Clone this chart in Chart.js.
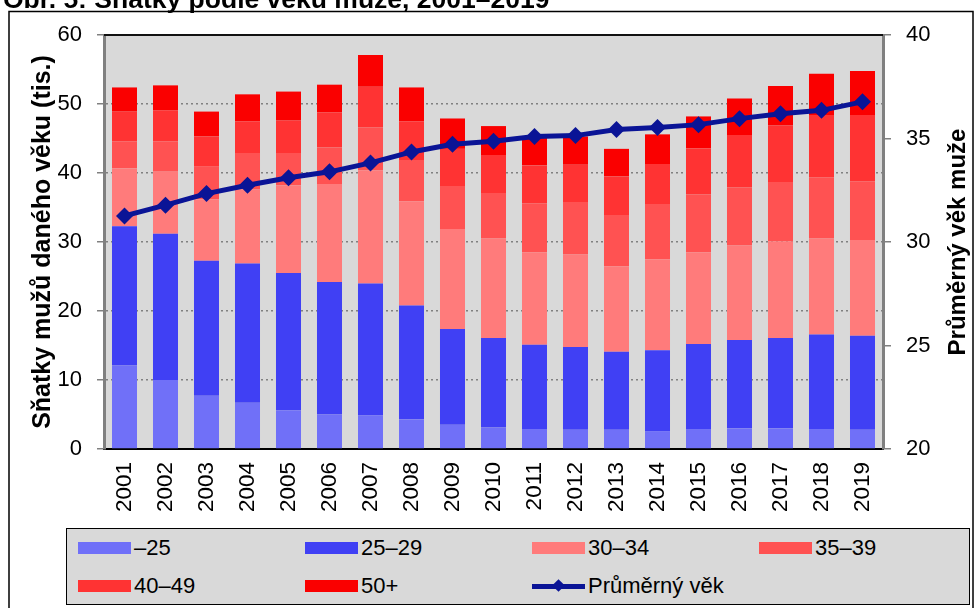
<!DOCTYPE html>
<html>
<head>
<meta charset="utf-8">
<script src="https://cdn.jsdelivr.net/npm/chart.js@4.4.1/dist/chart.umd.min.js"></script>
<style>
  body { margin: 0; background: #fff; font-family: "Liberation Sans", Arial, sans-serif; }
  #wrap { position: relative; width: 979px; height: 608px; overflow: hidden; }
  #title { position: absolute; left: 3px; top: -14px; font-weight: bold; font-size: 26.5px; line-height: 26px; white-space: nowrap; }
  #legend { position: absolute; left: 66px; top: 528px; width: 902px; height: 75px; background: #d9d9d9; border: 1.5px solid #000; }
  .item { position: absolute; font-size: 22px; line-height: 22px; white-space: nowrap; }
  .sw { position: absolute; width: 53px; height: 12px; }
  .lbl { position: absolute; }
</style>
</head>
<body>
<div id="wrap">
  <canvas id="chart" width="979" height="608"></canvas>
  <div id="title">Obr. 5: Sňatky podle věku muže, 2001–2019</div>
  <div id="legend"></div>
</div>
<script>
var years = ['2001','2002','2003','2004','2005','2006','2007','2008','2009','2010',
             '2011','2012','2013','2014','2015','2016','2017','2018','2019'];

// thousands of marriages by groom's age
var age_25   = [12.1, 10.0, 7.7, 6.7, 5.6, 5.0, 4.9, 4.3, 3.5, 3.1, 2.9, 2.8, 2.8, 2.6, 2.9, 3.0, 3.0, 2.9, 2.8];
var age25_29 = [20.2, 21.2, 19.6, 20.2, 19.9, 19.2, 19.1, 16.5, 13.9, 13.0, 12.2, 12.0, 11.3, 11.7, 12.3, 12.8, 13.1, 13.7, 13.6];
var age30_34 = [8.4, 9.0, 8.9, 10.7, 12.7, 14.2, 16.4, 15.1, 14.5, 14.4, 13.4, 13.4, 12.4, 13.2, 13.3, 13.7, 14.0, 13.9, 13.9];
var age35_39 = [3.9, 4.4, 4.8, 5.3, 4.7, 5.3, 6.2, 6.0, 6.2, 6.6, 7.1, 7.6, 7.4, 8.0, 8.4, 8.4, 8.6, 8.9, 8.5];
var age40_49 = [4.3, 4.5, 4.3, 4.6, 4.7, 5.1, 5.9, 5.6, 5.4, 5.5, 5.5, 5.4, 5.6, 5.8, 6.7, 7.6, 8.2, 9.0, 9.6];
var age50    = [3.5, 3.6, 3.6, 3.9, 4.2, 4.0, 4.6, 4.9, 4.4, 4.2, 4.1, 4.1, 4.0, 4.3, 4.6, 5.3, 5.7, 6.0, 6.4];
var avgAge   = [31.26, 31.78, 32.34, 32.74, 33.10, 33.39, 33.82, 34.35, 34.72, 34.87,
                35.10, 35.14, 35.43, 35.53, 35.67, 35.96, 36.20, 36.36, 36.77];

var groupNames  = ['–25', '25–29', '30–34', '35–39', '40–49', '50+'];
var groupColors = ['#7070f8', '#4040f4', '#ff7b7b', '#ff5252', '#ff3333', '#fa0000'];
var lineName = 'Průměrný věk';
var lineColor = '#0a1496';

var FONT = '"Liberation Sans", Arial, sans-serif';
var groups = [age_25, age25_29, age30_34, age35_39, age40_49, age50];

var datasets = groups.map(function (vals, i) {
    return {
        type: 'bar',
        label: groupNames[i],
        data: vals,
        backgroundColor: groupColors[i],
        borderWidth: 0,
        barPercentage: 0.61,
        categoryPercentage: 1.0,
        yAxisID: 'y',
        order: 2
    };
});
datasets.push({
    type: 'line',
    label: lineName,
    data: avgAge,
    borderColor: lineColor,
    backgroundColor: lineColor,
    borderWidth: 5,
    pointStyle: 'rectRot',
    pointRadius: 8.5,
    pointBorderWidth: 0,
    pointBackgroundColor: lineColor,
    tension: 0,
    yAxisID: 'y1',
    order: 1
});

var plotBg = {
    id: 'plotBg',
    beforeDraw: function (chart) {
        var c = chart.ctx, a = chart.chartArea;
        c.save();
        c.fillStyle = '#fff';
        c.fillRect(0, 0, chart.width, chart.height);
        c.strokeStyle = '#000';
        c.lineWidth = 1.5;
        c.strokeRect(9, 11.5, 964, 610);
        c.fillStyle = '#d9d9d9';
        c.fillRect(a.left, a.top, a.right - a.left, a.bottom - a.top);
        c.restore();
    },
    afterDraw: function (chart) {
        var c = chart.ctx, a = chart.chartArea;
        c.save();
        c.strokeStyle = '#111';
        c.lineWidth = 2;
        c.beginPath();
        c.moveTo(a.left, a.top);
        c.lineTo(a.right, a.top);
        c.stroke();
        // right axis title, reading bottom to top
        c.translate(958, (a.top + a.bottom) / 2);
        c.rotate(-Math.PI / 2);
        c.fillStyle = '#000';
        c.font = 'bold 24px ' + FONT;
        c.textAlign = 'center';
        c.textBaseline = 'middle';
        c.fillText('Průměrný věk muže', 0, 0);
        c.restore();
    }
};

var ctx = document.getElementById('chart').getContext('2d');
var chart = new Chart(ctx, {
    data: { labels: years, datasets: datasets },
    plugins: [plotBg],
    options: {
        responsive: false,
        animation: false,
        devicePixelRatio: 1,
        layout: { padding: { left: 0, right: 0, top: 35, bottom: 0 } },
        plugins: { legend: { display: false }, title: { display: false }, tooltip: { enabled: false } },
        scales: {
            x: {
                stacked: true,
                grid: { display: false, drawTicks: false },
                border: { display: true, color: '#000', width: 2 },
                ticks: { color: '#000', font: { family: FONT, size: 22.5 }, maxRotation: 90, minRotation: 90, padding: 13 },
                afterFit: function (s) { s.height = 159; }
            },
            y: {
                stacked: true,
                position: 'left',
                min: 0, max: 60,
                ticks: { stepSize: 10, color: '#000', font: { family: FONT, size: 22 }, padding: 15 },
                grid: {
                    color: function (c) { return (c.tick && (c.tick.value === 0 || c.tick.value === 60)) ? 'rgba(0,0,0,0)' : '#808080'; },
                    lineWidth: 1.5,
                    tickColor: '#808080',
                    tickLength: 7,
                    tickWidth: 1.5,
                    tickBorderDash: []
                },
                border: { display: true, color: '#808080', width: 3, dash: [2, 3] },
                title: {
                    display: true,
                    text: 'Sňatky mužů daného věku (tis.)',
                    color: '#000',
                    font: { family: FONT, size: 25, weight: 'bold' },
                    padding: { top: 28, bottom: 0 }
                },
                afterFit: function (s) { s.width = 104; }
            },
            y1: {
                position: 'right',
                min: 20, max: 40,
                ticks: { stepSize: 5, color: '#000', font: { family: FONT, size: 22 }, padding: 15 },
                grid: { drawOnChartArea: false, color: '#808080', tickLength: 8, lineWidth: 1.5 },
                border: { display: true, color: '#808080', width: 3 },
                afterFit: function (s) { s.width = 96; }
            }
        }
    }
});

// legend box
var legend = document.getElementById('legend');
var cols = [11, 238, 465, 692];
var rows = [19, 57];
var entries = groupNames.map(function (n, i) { return { name: n, color: groupColors[i], line: false }; });
entries.push({ name: lineName, color: lineColor, line: true });
entries.forEach(function (e, i) {
    var item = document.createElement('div');
    item.className = 'item';
    item.style.left = cols[i % 4] + 'px';
    item.style.top = (rows[Math.floor(i / 4)] - 11) + 'px';
    var sw = document.createElement('div');
    if (e.line) {
        sw.style.cssText = 'position:absolute;left:0;top:8.5px;width:53px;height:5px;background:' + e.color;
        var dia = document.createElement('div');
        dia.style.cssText = 'position:absolute;left:22px;top:-2.5px;width:9px;height:9px;transform:rotate(45deg);background:' + e.color;
        sw.appendChild(dia);
    } else {
        sw.className = 'sw';
        sw.style.left = '0px';
        sw.style.top = '5px';
        sw.style.background = e.color;
    }
    item.appendChild(sw);
    var lbl = document.createElement('div');
    lbl.className = 'lbl';
    lbl.style.left = '56px';
    lbl.style.top = '0px';
    lbl.textContent = e.name;
    item.appendChild(lbl);
    legend.appendChild(item);
});
</script>
</body>
</html>
